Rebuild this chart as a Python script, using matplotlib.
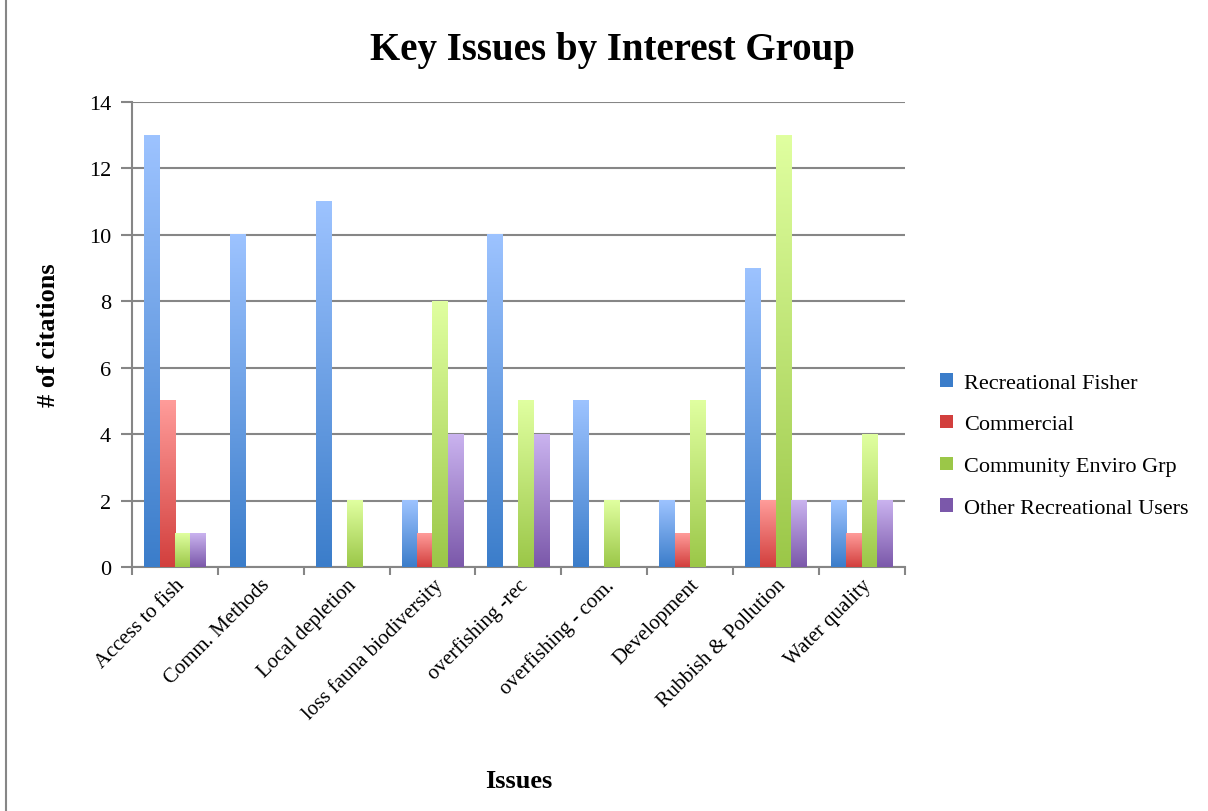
import numpy as np
import matplotlib.pyplot as plt
from matplotlib.colors import LinearSegmentedColormap
from matplotlib.patches import Patch
from matplotlib.lines import Line2D

issues = ["Access to fish", "Comm. Methods", "Local depletion",
          "loss fauna biodiversity", "overfishing -rec", "overfishing - com.",
          "Development", "Rubbish & Pollution", "Water quality"]
groups = ["Recreational Fisher", "Commercial", "Community Enviro Grp",
          "Other Recreational Users"]
rec_fisher = [13, 10, 11, 2, 10, 5, 2, 9, 2]
commercial = [5, 0, 0, 1, 0, 0, 1, 2, 1]
community = [1, 0, 2, 8, 5, 2, 5, 13, 4]
other_rec = [1, 0, 0, 4, 4, 0, 0, 2, 2]

# (top, bottom) colours of each bar gradient
shades = [("#9dc3ff", "#3b7dca"), ("#ff9c9a", "#d23f3d"),
          ("#e0ffa0", "#9bc748"), ("#cab3ef", "#7b58aa")]

plt.rcParams['font.family'] = ['Liberation Serif', 'DejaVu Serif']

fig = plt.figure(figsize=(12.08, 8.12), dpi=100)
ax = fig.add_axes([0.1093, 0.3005, 0.6395, 0.5727])

series = [rec_fisher, commercial, community, other_rec]
x = np.arange(len(issues))
w = 0.18
grad = np.linspace(1, 0, 256).reshape(-1, 1)

for k, vals in enumerate(series):
    cmap = LinearSegmentedColormap.from_list(groups[k], [shades[k][1], shades[k][0]])
    offs = x + (k - 1.5) * w
    bars = ax.bar(offs, vals, width=w, color='none', edgecolor='none', zorder=3)
    for b in bars:
        h = b.get_height()
        if h <= 0:
            continue
        x0 = b.get_x()
        ax.imshow(grad, cmap=cmap, aspect='auto', extent=(x0, x0 + w, 0, h),
                  zorder=3, interpolation='bilinear')

ax.set_xlim(-0.5, len(issues) - 0.5)
ax.set_ylim(0, 14)
ax.set_yticks(range(0, 15, 2))
ax.set_xticks(np.arange(-0.5, len(issues), 1.0), minor=False)
ax.set_xticklabels([])
ax.set_xticks(x, minor=True)
ax.set_xticklabels(issues, minor=True, rotation=45, ha='right',
                   rotation_mode='anchor', fontsize=15)
ax.tick_params(axis='x', which='minor', length=0, pad=6)
ax.tick_params(axis='x', which='major', length=6, width=1.5, color='#868686')
ax.tick_params(axis='y', length=8, width=1.5, color='#868686', labelsize=16, pad=7)

ax.grid(axis='y', color='#868686', linewidth=1.5, zorder=0)
ax.set_axisbelow(True)
for s in ['top', 'right']:
    ax.spines[s].set_visible(False)
for s in ['left', 'bottom']:
    ax.spines[s].set_color('#868686')
    ax.spines[s].set_linewidth(1.5)

ax.set_ylabel("# of citations", fontsize=19, fontweight='bold')
ax.yaxis.set_label_coords(-0.093, 0.5)
ax.set_xlabel("Issues", fontsize=19, fontweight='bold')
ax.xaxis.set_label_coords(0.5, -0.434)

fig.text(0.507, 0.938, "Key Issues by Interest Group", ha='center', va='center',
         fontsize=28, fontweight='bold')

handles = [Patch(facecolor=shades[k][1], edgecolor='none') for k in range(4)]
fig.legend(handles, groups, loc='center left', bbox_to_anchor=(0.762, 0.45),
           frameon=False, fontsize=16, handlelength=0.55, handleheight=0.55,
           handletextpad=0.5, labelspacing=1.0)

fig.add_artist(Line2D([0.005, 0.005], [0, 1], color='#868686', linewidth=1.5))

fig.savefig("out.png", dpi=100)
